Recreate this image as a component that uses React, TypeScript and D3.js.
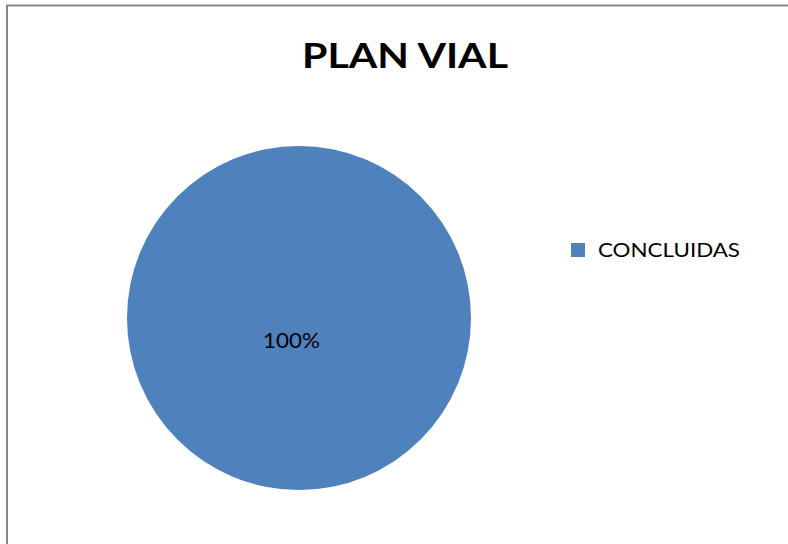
import React from "react";
import * as d3 from "d3";

const categories = ["CONCLUIDAS"];
const values = [100];
const title = "PLAN VIAL";
const colors = ["#4F81BD"];

export default function App() {
  const width = 788;
  const height = 544;
  const cx = 299;
  const cy = 318;
  const r = 172;
  const pie = d3.pie<number>().sort(null)(values);
  const arc = d3.arc<d3.PieArcDatum<number>>().innerRadius(0).outerRadius(r);
  const total = d3.sum(values);
  const font = "Lato, 'Open Sans', 'Liberation Sans', sans-serif";
  return (
    <svg
      width={width}
      height={height}
      style={{ position: "absolute", left: 0, top: 0, background: "#fff" }}
    >
      <rect x={7} y={5.5} width={800} height={600} fill="#fff" stroke="#868686" strokeWidth={2} />
      <text
        x={405}
        y={68}
        textAnchor="middle"
        fontFamily={font}
        fontWeight="bold"
        fontSize={35}
        textLength={206}
        lengthAdjust="spacingAndGlyphs"
        fill="#000"
      >
        {title}
      </text>
      <g transform={`translate(${cx},${cy})`}>
        {pie.map((d, i) => (
          <path key={i} d={arc(d) || ""} fill={colors[i]} />
        ))}
      </g>
      {pie.map((d, i) => (
        <text
          key={"l" + i}
          x={291.5}
          y={348.3}
          textAnchor="middle"
          fontFamily={font}
          fontSize={21.5}
          textLength={57}
          lengthAdjust="spacingAndGlyphs"
          fill="#000"
        >
          {`${Math.round((d.value / total) * 100)}%`}
        </text>
      ))}
      {categories.map((c, i) => (
        <g key={c}>
          <rect x={571} y={243} width={14} height={14} fill={colors[i]} />
          <text
            x={598}
            y={257.3}
            fontFamily={font}
            fontSize={19.5}
            textLength={142}
            lengthAdjust="spacingAndGlyphs"
            fill="#000"
          >
            {c}
          </text>
        </g>
      ))}
    </svg>
  );
}
